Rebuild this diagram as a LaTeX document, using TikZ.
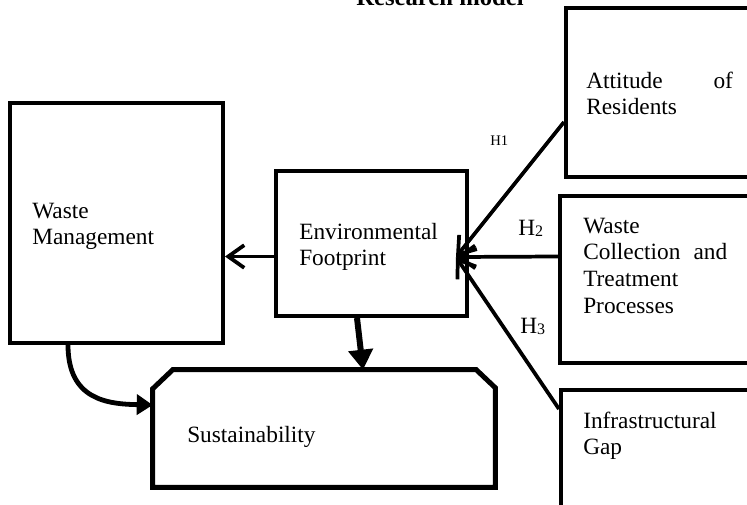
\documentclass[tikz,border=0pt]{standalone}
\usepackage{fontspec}
\setmainfont{Liberation Serif}
\usetikzlibrary{arrows.meta,calc}
\begin{document}
\begin{tikzpicture}[x=0.75pt,y=-0.75pt,
  box/.style={draw, line width=3pt, rectangle, inner sep=0pt},
  txt/.style={anchor=base west, inner sep=0pt, align=left, font=\fontsize{17.5}{20}\selectfont},
  hlabel/.style={anchor=base west, inner sep=0pt, font=\fontsize{17.5}{20}\selectfont},
  conn/.style={line width=2.8pt, -{Straight Barb[length=12pt,width=17pt]}},
  thickarrow/.style={line width=4.5pt, -{Triangle[length=15pt,width=18pt]}},
  curvearrow/.style={line width=3.6pt, -{Triangle[length=12pt,width=15pt]}},
  sustline/.style={line width=3.75pt, line join=miter}
]
\useasboundingbox (0,0) rectangle (747,504);

% boxes
\node[box, minimum width=159.75pt, minimum height=180pt] (WM) at (116.5,223) {};
\node[box, minimum width=143.25pt, minimum height=108.75pt] (EF) at (371.5,243.5) {};
\node[box, minimum width=153pt, minimum height=126.75pt] (AT) at (668,92.5) {};
\node[box, minimum width=157.5pt, minimum height=125.25pt] (WC) at (665,279.5) {};
\node[box, minimum width=156.75pt, minimum height=97.5pt] (IG) at (665.5,455) {};
\node[minimum width=256.5pt, minimum height=87.75pt, inner sep=0pt] (SU) at (324,428.5) {};
\draw[sustline] ($(SU.north west)+(0,19)$) -- ($(SU.north west)+(20,0)$) -- ($(SU.north east)+(-19,0)$) -- ($(SU.north east)+(0,18)$) -- (SU.south east) -- (SU.south west) -- cycle;

% texts
\node[font=\bfseries\fontsize{18.5}{22}\selectfont, anchor=base, inner sep=0pt] (title) at (440,5) {Research model};
\node[txt, text width=150pt] (tWM) at (32,218) {Waste\\Management};
\node[txt, text width=125pt] (tEF) at (299,239) {Environmental\\Footprint};
\node[txt, text width=110pt] (tAT) at (586,88) {Attitude\hfill of\\Residents};
\node[txt, text width=108pt] (tWC) at (583,233) {Waste\\Collection\hfill and\\Treatment\\Processes};
\node[txt, text width=125pt] (tIG) at (583,428) {Infrastructural\\Gap};
\node[txt, text width=125pt] (tSU) at (187,442) {Sustainability};
\node[hlabel, font=\fontsize{11}{13}\selectfont] (h1) at (490,145) {H1};
\node[hlabel] (h2) at (518,235) {H{\fontsize{12}{12}\selectfont\raisebox{-1pt}{2}}};
\node[hlabel] (h3) at (520,333) {H{\fontsize{12}{12}\selectfont\raisebox{-1pt}{3}}};

% connectors
\coordinate (conv) at (456,257);
\draw[conn] (EF.west |- 0,256.5) -- (WM.east |- 0,256.5);
\draw[conn] (AT.west |- 0,122) -- (conv);
\draw[conn] (WC.west |- 0,256.5) -- (conv);
\draw[conn] (IG.west |- 0,409) -- (conv);
\draw[thickarrow] ($(EF.south)+(-14.5,0)$) -- ($(SU.north)+(39,0)$);
\draw[curvearrow] ($(WM.south)+(-48.5,0)$) .. controls +(0,55) and +(-45,-1) .. ($(SU.west)+(0,-23.5)$);
\end{tikzpicture}
\end{document}
